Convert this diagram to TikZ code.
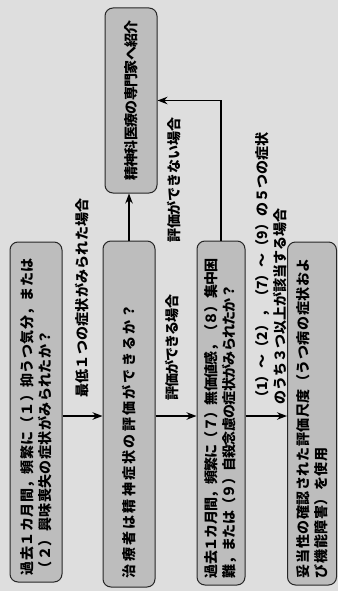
\documentclass[tikz,border=0pt]{standalone}
\usepackage{fontspec}
\newfontfamily\cjk{Noto Sans CJK JP}
\usetikzlibrary{arrows.meta}
\definecolor{bggray}{gray}{0.87}
\definecolor{boxgray}{gray}{0.74}
\begin{document}
\begin{tikzpicture}[x=1pt,y=1pt,
  ls/.style={font=\cjk\bfseries\fontsize{14}{18}\selectfont\addfontfeature{LetterSpace=#1}},
  box/.style={draw=black!85, line width=1pt, fill=boxgray, rounded corners=8pt,
    rotate=90, inner sep=0pt, align=left},
  lbl/.style={rotate=90, inner sep=0pt, align=left, anchor=west},
  arr/.style={line width=1.4pt, -{Stealth[length=10pt,width=7.5pt]}}]
\fill[bggray] (0,0) rectangle (338,-591);
\useasboundingbox (0,0) rectangle (338,-591);

\node[box, ls=3, minimum width=340pt, minimum height=52pt, text width=326pt] (A) at (36,-412)
  {過去１カ月間，頻繁に（１）抑うつ気分，または\\（２）興味喪失の症状がみられたか？};
\node[box, ls=16, minimum width=346pt, minimum height=52pt, text width=328pt] (B) at (129,-414)
  {治療者は精神症状の評価ができるか？};
\node[box, ls=-5, minimum width=344pt, minimum height=48pt, text width=330pt] (C) at (221,-413)
  {過去１カ月間，頻繁に（７）無価値感，（８）集中困\\難，または（９）自殺念慮の症状がみられたか？};
\node[box, ls=4, minimum width=343pt, minimum height=49pt, text width=329pt] (D) at (312,-413.5)
  {妥当性の確認された評価尺度（うつ病の症状およ\\び機能障害）を使用};
\node[box, ls=-5, align=center, minimum width=185pt, minimum height=52pt] (E) at (131,-100.5)
  {精神科医療の専門家へ紹介};

\coordinate (ay) at (0,-416);
\draw[arr] (A.south |- ay) -- (B.north |- ay);
\draw[arr] (B.south |- ay) -- (C.north |- ay);
\draw[arr] (C.south |- ay) -- (D.north |- ay);
\draw[arr] (B.east) -- (B.east |- E.west);
\draw[arr] (C.east) |- (E.south);

\node[lbl, ls=2] (l1) at (82,-398) {最低１つの症状がみられた場合};
\node[lbl, ls=-6] (l2) at (172,-401) {評価ができる場合};
\node[lbl, ls=-1] (l3) at (174,-243) {評価ができない場合};
\node[lbl, ls=0] (l4) at (271,-405) {（1）〜（2），（7）〜（9）の５つの症状\\のうち３つ以上が該当する場合};
\end{tikzpicture}
\end{document}
